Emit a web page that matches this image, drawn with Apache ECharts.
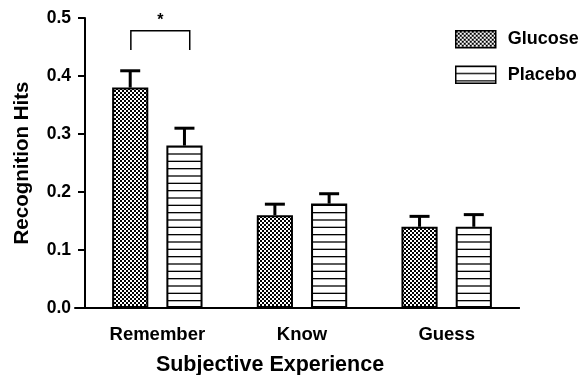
<!DOCTYPE html>
<html>
<head>
<meta charset="utf-8">
<script src="https://cdn.jsdelivr.net/npm/echarts@6/dist/echarts.min.js"></script>
<style>html,body{margin:0;padding:0;background:#fff}#c{width:581px;height:375px}</style>
</head>
<body>
<div id="c"></div>
<script>
var categories = ['Remember', 'Know', 'Guess'];
var glucose = [0.38, 0.16, 0.14];
var placebo = [0.28, 0.18, 0.14];
var glucoseErr = [0.029, 0.019, 0.018];
var placeboErr = [0.030, 0.017, 0.021];
var yTicks = [0.0, 0.1, 0.2, 0.3, 0.4, 0.5];
var sigCategory = 0;
var sigTop = 0.478;
var sigLeg = 0.445;
var sigStar = 0.495;

var FONT = "'Liberation Sans', Arial, sans-serif";

function checkerPattern() {
  var c = document.createElement('canvas');
  c.width = 4; c.height = 4;
  var g = c.getContext('2d');
  g.fillStyle = '#fff'; g.fillRect(0, 0, 4, 4);
  g.fillStyle = '#000'; g.fillRect(0, 0, 2, 2); g.fillRect(2, 2, 2, 2);
  return { image: c, repeat: 'repeat' };
}
function linePattern() {
  var c = document.createElement('canvas');
  c.width = 4; c.height = 22;
  var g = c.getContext('2d');
  g.fillStyle = '#fff'; g.fillRect(0, 0, 4, 22);
  g.fillStyle = '#000';
  for (var k = 0; k <= 3; k++) g.fillRect(0, k * 22 / 3 - 0.65, 4, 1.3);
  return { image: c, repeat: 'repeat' };
}

var BAR_W = 0.25, GAP = 0.5;
function errRender(side) {
  return function (params, api) {
    var idx = api.value(0), v = api.value(1), e = api.value(2);
    var band = api.size([1, 0])[0];
    var w = band * BAR_W;
    var off = side * (w + w * GAP) / 2;
    var p0 = api.coord([idx, v]);
    var p1 = api.coord([idx, v + e]);
    var x = p0[0] + off;
    return {
      type: 'group',
      children: [
        { type: 'line', shape: { x1: x, y1: p0[1], x2: x, y2: p1[1] }, style: { stroke: '#000', lineWidth: 3 } },
        { type: 'line', shape: { x1: x - 10, y1: p1[1], x2: x + 10, y2: p1[1] }, style: { stroke: '#000', lineWidth: 3 } }
      ]
    };
  };
}

var chart = echarts.init(document.getElementById('c'));
chart.setOption({
  animation: false,
  backgroundColor: '#fff',
  textStyle: { fontFamily: FONT },
  grid: [
    { left: 85, right: 62, top: 18, bottom: 67, containLabel: false, outerBoundsMode: 'none' },
    { left: 75, right: 62, top: 18, bottom: 67, containLabel: false, outerBoundsMode: 'none' }
  ],
  legend: {
    data: ['Glucose', 'Placebo'],
    orient: 'vertical',
    left: 450, top: 25,
    itemWidth: 40, itemHeight: 17, itemGap: 17,
    icon: 'rect',
    itemStyle: { borderColor: '#000', borderWidth: 1.5 },
    textStyle: { fontFamily: FONT, fontWeight: 'bold', fontSize: 18, color: '#000', padding: [0, 0, 0, 7] }
  },
  xAxis: [{
    type: 'category', gridIndex: 0, data: categories,
    axisLine: { lineStyle: { color: '#000', width: 2 } },
    axisTick: { alignWithLabel: true, length: 9, lineStyle: { color: '#000', width: 2 } },
    axisLabel: { color: '#000', fontFamily: FONT, fontWeight: 'bold', fontSize: 18.5, margin: 17 },
    name: 'Subjective Experience', nameLocation: 'middle', nameGap: 46,
    nameTextStyle: { color: '#000', fontFamily: FONT, fontWeight: 'bold', fontSize: 21.5, padding: [0, 64, 0, 0] }
  }, {
    type: 'value', gridIndex: 1, min: 0, max: 1,
    axisLine: { show: true, lineStyle: { color: '#000', width: 2 } },
    axisTick: { show: false }, axisLabel: { show: false }, splitLine: { show: false }
  }],
  yAxis: [{
    type: 'value', gridIndex: 0, min: 0, max: 0.5, interval: 0.1,
    axisLine: { show: true, lineStyle: { color: '#000', width: 2 } },
    axisTick: { show: true, length: 7, lineStyle: { color: '#000', width: 2 } },
    axisLabel: { color: '#000', fontFamily: FONT, fontWeight: 'bold', fontSize: 17.5, margin: 14,
      formatter: function (v) { return yTicks.indexOf(Math.round(v * 10) / 10) >= 0 ? v.toFixed(1) : ''; } },
    splitLine: { show: false },
    name: 'Recognition Hits', nameLocation: 'middle', nameGap: 52,
    nameTextStyle: { color: '#000', fontFamily: FONT, fontWeight: 'bold', fontSize: 20.5 }
  }, {
    type: 'value', gridIndex: 1, show: false, min: 0, max: 1
  }],
  series: [
    { name: 'Glucose', type: 'bar', data: glucose, barWidth: '25%', barGap: '50%',
      itemStyle: { color: checkerPattern(), borderColor: '#000', borderWidth: 2 } },
    { name: 'Placebo', type: 'bar', data: placebo, barWidth: '25%', barGap: '50%',
      itemStyle: { color: linePattern(), borderColor: '#000', borderWidth: 2 } },
    { type: 'custom', renderItem: errRender(-1), z: 5,
      data: glucose.map(function (v, i) { return [i, v, glucoseErr[i]]; }) },
    { type: 'custom', renderItem: errRender(1), z: 5,
      data: placebo.map(function (v, i) { return [i, v, placeboErr[i]]; }) },
    { type: 'custom', z: 5, clip: false,
      data: [[sigCategory, sigTop, sigLeg, sigStar]],
      renderItem: function (params, api) {
        var band = api.size([1, 0])[0];
        var c = api.coord([api.value(0), api.value(1)]);
        var yl = api.coord([api.value(0), api.value(2)])[1];
        var ys = api.coord([api.value(0), api.value(3)])[1];
        var l = c[0] - 0.183 * band, r = c[0] + 0.224 * band;
        return {
          type: 'group',
          children: [
            { type: 'polyline', shape: { points: [[l, yl], [l, c[1]], [r, c[1]], [r, yl]] },
              style: { stroke: '#000', lineWidth: 1.5, fill: null } },
            { type: 'text', style: { text: '*', x: (l + r) / 2, y: ys, align: 'center', verticalAlign: 'middle',
              font: 'bold 16px ' + FONT, fill: '#000' } }
          ]
        };
      }
    }
  ]
});
</script>
</body>
</html>
